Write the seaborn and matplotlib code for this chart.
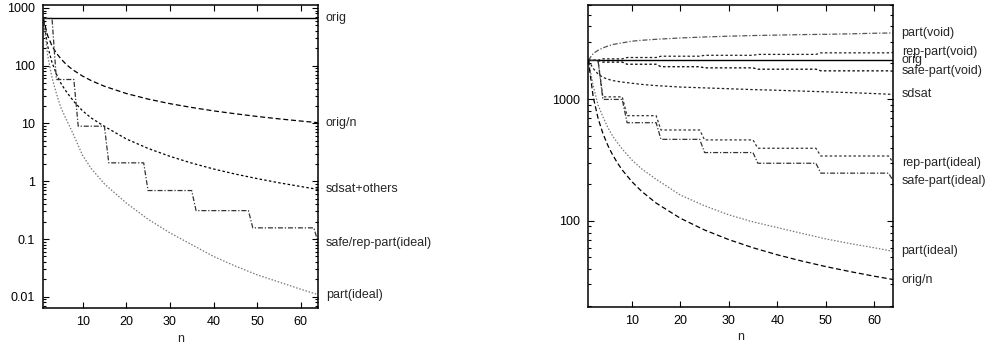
import matplotlib
matplotlib.use("Agg")
import matplotlib.pyplot as plt
import matplotlib.ticker as mticker
import seaborn as sns

n_curve = [1, 2, 3, 4, 5, 6, 7, 8, 10, 12, 15, 20, 25, 30, 35, 40, 45, 50, 55, 60, 64]
# n values at the corners of the step curves
n_step = [1, 3, 4, 8, 9, 15, 16, 24, 25, 35, 36, 48, 49, 63, 64]
n_flat = [1, 64]

# left panel
l_orig = [660, 660]
l_orig_n = [660, 330, 220, 165, 132, 110, 94, 82.5, 66, 55, 44, 33, 26.4, 22,
            18.9, 16.5, 14.7, 13.2, 12, 11, 10.3]
l_sdsat = [660, 218, 113, 72, 50, 38, 30, 24, 16.5, 12.4, 8.9, 5.4, 3.7, 2.7,
           2.06, 1.63, 1.33, 1.11, 0.94, 0.81, 0.72]
l_safe_rep = [660, 660, 57.6, 57.6, 8.96, 8.96, 2.08, 2.08, 0.69, 0.69, 0.31,
              0.31, 0.156, 0.156, 0.085]
l_part = [660, 150, 62, 33, 19, 13, 9, 6.2, 2.8, 1.65, 0.9, 0.42, 0.22, 0.128,
          0.08, 0.05, 0.034, 0.024, 0.018, 0.0135, 0.0109]

# right panel
r_orig = [2100, 2100]
r_orig_n = [2100, 1050, 700, 525, 420, 350, 300, 262, 210, 175, 140, 105, 84,
            70, 60, 52.5, 46.7, 42, 38.2, 35, 32.8]
r_part_void = [2100, 2390, 2540, 2660, 2750, 2830, 2880, 2925, 3020, 3070, 3130,
               3210, 3270, 3320, 3360, 3390, 3420, 3440, 3470, 3510, 3530]
r_rep_void = [2100, 2100, 2160, 2160, 2215, 2215, 2270, 2270, 2310, 2310, 2350,
              2350, 2420, 2420, 2440]
r_safe_void = [2100, 2100, 2030, 2030, 1950, 1950, 1860, 1860, 1820, 1820, 1775,
               1775, 1720, 1720, 1710]
r_sdsat = [2100, 1800, 1620, 1520, 1470, 1430, 1410, 1390, 1360, 1330, 1300,
           1265, 1245, 1225, 1205, 1190, 1172, 1155, 1138, 1118, 1100]
r_rep_ideal = [2100, 2100, 1050, 1050, 735, 735, 560, 560, 464, 464, 396, 396,
               342, 342, 300]
r_safe_ideal = [2100, 2100, 1000, 1000, 643, 643, 469, 469, 365, 365, 298, 298,
                247, 247, 212]
r_part_ideal = [2100, 1300, 900, 720, 590, 500, 440, 390, 317, 268, 220, 163,
                133, 112, 98, 88, 79, 71, 65, 60, 56]

SOLID = "-"
DASH = (0, (4, 2.2))
SHORT = (0, (2, 1.8))
DOT = (0, (1.2, 1.4))
DASHDOT = (0, (4, 1.5, 1, 1.5))

sns.set_style("ticks")
plt.rcParams["font.family"] = ["Liberation Sans", "DejaVu Sans"]
plt.rcParams["font.size"] = 9

fig = plt.figure(figsize=(9.93, 3.51), dpi=100)
ax1 = fig.add_axes([0.0436, 0.1225, 0.2769, 0.8632])
ax2 = fig.add_axes([0.5925, 0.1254, 0.3072, 0.8604])


def draw(ax, x, y, label, ls, color="black", lw=0.9):
    sns.lineplot(x=x, y=y, ax=ax, color=color, linestyle=ls, linewidth=lw,
                 estimator=None, sort=False)
    ax.text(1.027, y[-1], label, transform=ax.get_yaxis_transform(),
            ha="left", va="center", fontsize=9)


draw(ax1, n_flat, l_orig, "orig", SOLID, lw=1.0)
draw(ax1, n_curve, l_orig_n, "orig/n", DASH)
draw(ax1, n_curve, l_sdsat, "sdsat+others", SHORT)
draw(ax1, n_step, l_safe_rep, "safe/rep-part(ideal)", DASHDOT, color="#333333")
draw(ax1, n_curve, l_part, "part(ideal)", DOT, color="#777777")

draw(ax2, n_curve, r_part_void, "part(void)", DASHDOT, color="#555555")
draw(ax2, n_step, r_rep_void, "rep-part(void)", SHORT, color="#222222")
draw(ax2, n_flat, r_orig, "orig", SOLID, lw=1.0)
draw(ax2, n_step, r_safe_void, "safe-part(void)", SHORT)
draw(ax2, n_curve, r_sdsat, "sdsat", SHORT, color="#222222")
draw(ax2, n_step, r_rep_ideal, "rep-part(ideal)", SHORT, color="#333333")
draw(ax2, n_step, r_safe_ideal, "safe-part(ideal)", DASHDOT, color="#333333")
draw(ax2, n_curve, r_part_ideal, "part(ideal)", DOT, color="#777777")
draw(ax2, n_curve, r_orig_n, "orig/n", DASH)

ax1.set_ylim(0.0064, 1120)
ax2.set_ylim(19.5, 6000)

for ax in (ax1, ax2):
    ax.set_yscale("log")
    ax.set_xlim(1, 64)
    ax.set_xticks([10, 20, 30, 40, 50, 60])
    ax.yaxis.set_major_locator(mticker.LogLocator(base=10))
    ax.yaxis.set_minor_locator(mticker.LogLocator(base=10, subs=range(2, 10)))
    ax.yaxis.set_major_formatter(mticker.FuncFormatter(lambda v, p: f"{v:g}"))
    ax.yaxis.set_minor_formatter(mticker.NullFormatter())
    ax.tick_params(which="both", direction="in", top=True, right=True,
                   width=0.8, colors="black", labelsize=9, pad=6)
    ax.tick_params(which="major", length=4)
    ax.tick_params(which="minor", length=2)
    for sp in ax.spines.values():
        sp.set_visible(True)
        sp.set_linewidth(1.1)
        sp.set_color("black")
    ax.set_xlabel("n", fontsize=9, labelpad=3)
    ax.set_ylabel("")

fig.savefig("out.png", dpi=100)
